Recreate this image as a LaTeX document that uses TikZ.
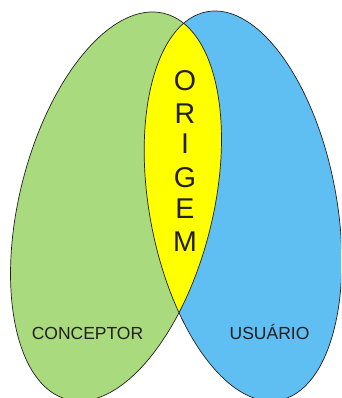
\documentclass[tikz,border=0pt]{standalone}
\usepackage{fontspec}
\setmainfont{Liberation Sans}
\definecolor{conceptorgreen}{RGB}{169,219,126}
\definecolor{usuarioblue}{RGB}{95,190,242}
\definecolor{origemyellow}{RGB}{255,255,0}
\definecolor{inkgray}{RGB}{35,31,32}
\begin{document}
\begin{tikzpicture}[x=1pt,y=1pt,
    outline/.style={draw=inkgray,line width=0.7pt},
    greenset/.style={rotate around={-14.0:(116,191.5)}},
    blueset/.style={rotate around={10.56:(243,192)}},
    setlabel/.style={text=inkgray,inner sep=0pt,anchor=base,font=\fontsize{17.5}{20}\selectfont},
    bigletter/.style={text=inkgray,inner sep=0pt,anchor=base,font=\fontsize{28.6}{30}\selectfont}]
  \useasboundingbox (0,0) rectangle (341,398);
  \clip (0,0) rectangle (341,398);
  % the two sets
  \fill[conceptorgreen,greenset] (116,191.5) ellipse [x radius=96.7,y radius=199];
  \fill[usuarioblue,blueset] (243,192) ellipse [x radius=93.5,y radius=197.6];
  % their intersection
  \begin{scope}
    \clip[greenset] (116,191.5) ellipse [x radius=96.7,y radius=199];
    \fill[origemyellow,blueset] (243,192) ellipse [x radius=93.5,y radius=197.6];
  \end{scope}
  % outlines
  \path[outline,greenset] (116,191.5) ellipse [x radius=96.7,y radius=199];
  \path[outline,blueset] (243,192) ellipse [x radius=93.5,y radius=197.6];
  % labels
  \node[setlabel] (conceptor) at (87.5,58) {CONCEPTOR};
  \node[setlabel] (usuario) at (269.5,58) {USUÁRIO};
  \node[bigletter] (o) at (185,307.6) {O};
  \node[bigletter] (r) at (185,274.7) {R};
  \node[bigletter] (i) at (185,244) {I};
  \node[bigletter] (g) at (185,210) {G};
  \node[bigletter] (e) at (185,179.7) {E};
  \node[bigletter] (m) at (185,146) {M};
\end{tikzpicture}
\end{document}
